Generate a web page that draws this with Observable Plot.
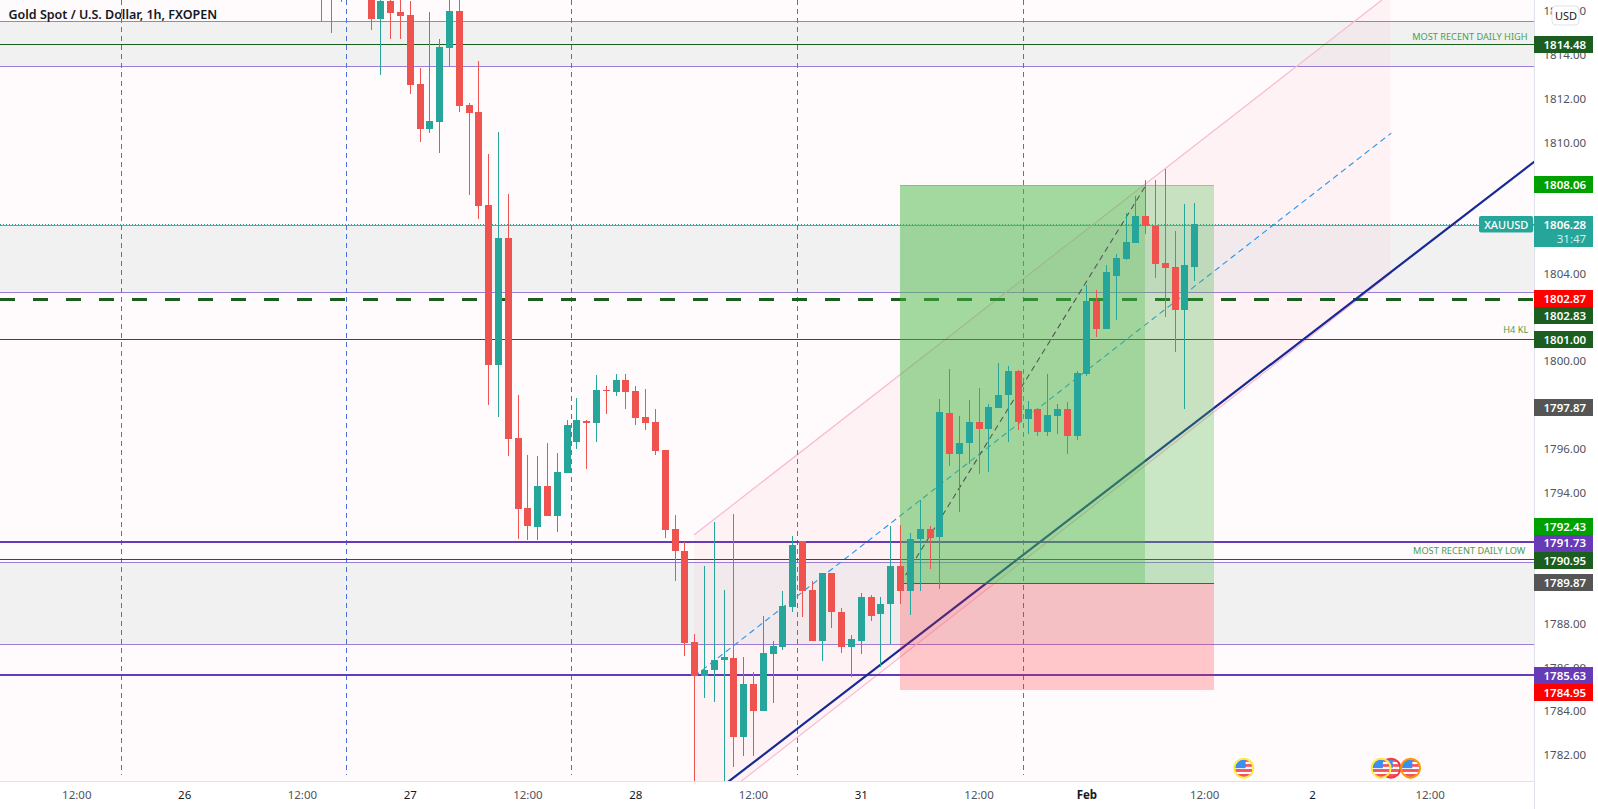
<!DOCTYPE html>
<html><head><meta charset="utf-8">
<style>html,body{margin:0;padding:0;background:#fff}svg{display:block}</style>
<script src="https://cdn.jsdelivr.net/npm/d3@7"></script>
<script src="https://cdn.jsdelivr.net/npm/@observablehq/plot@0.6"></script>
</head><body><div id="chart"></div>
<script>
const title = "Gold Spot / U.S. Dollar, 1h, FXOPEN";
// candle index runs from 0; each row is one hourly candle, oldest first
const opens = [1818.2,1818.0,1817.0,1818.2,1817.9,1817.0,1815.64,1816.46,1815.96,1815.82,1812.67,1810.61,1810.93,1814.32,1816.01,1811.71,1811.39,1807.14,1799.83,1805.63,1796.49,1793.29,1792.42,1794.29,1792.92,1794.89,1796.31,1797.27,1797.17,1798.68,1798.59,1799.14,1798.64,1797.45,1797.22,1795.94,1792.33,1791.32,1787.16,1785.61,1785.88,1786.34,1786.43,1782.82,1785.24,1784.01,1786.62,1786.93,1788.76,1791.78,1789.54,1787.21,1790.32,1788.53,1786.93,1787.21,1789.22,1788.44,1788.90,1790.64,1789.49,1791.87,1792.33,1791.96,1797.63,1795.76,1796.26,1797.22,1796.90,1797.86,1798.45,1799.55,1797.36,1797.81,1796.76,1797.49,1797.81,1796.58,1799.41,1802.75,1801.47,1803.89,1804.67,1805.40,1806.64,1806.18,1804.49,1804.30,1802.34,1804.30];
const highs = [1818.6,1818.3,1818.4,1818.9,1818.8,1817.2,1817.0,1816.6,1816.9,1816.46,1813.40,1815.96,1814.73,1817.2,1816.9,1811.80,1813.72,1809.47,1810.48,1807.64,1798.45,1795.71,1795.67,1796.26,1795.80,1797.31,1798.32,1797.31,1799.37,1798.87,1799.41,1799.41,1798.87,1798.73,1797.81,1795.94,1792.97,1791.74,1787.53,1790.64,1792.65,1789.54,1793.01,1786.48,1785.79,1788.35,1787.21,1789.49,1792.01,1791.78,1789.95,1790.32,1790.32,1788.72,1787.48,1789.40,1789.31,1789.22,1792.47,1792.51,1792.15,1793.66,1792.47,1798.27,1799.64,1797.49,1798.23,1798.77,1798.04,1799.92,1799.78,1799.60,1798.18,1797.81,1799.41,1798.04,1798.13,1799.55,1803.48,1803.25,1804.40,1804.90,1806.77,1807.55,1808.28,1808.28,1808.78,1805.96,1807.19,1807.23];
const lows = [1815.55,1815.00,1816.42,1817.0,1817.4,1815.14,1813.08,1814.73,1814.73,1812.21,1810.02,1810.43,1809.52,1813.49,1811.39,1807.60,1806.50,1798.00,1797.45,1795.67,1791.87,1791.83,1791.83,1792.92,1792.19,1794.89,1795.99,1795.07,1796.31,1797.59,1798.41,1797.81,1797.08,1796.85,1795.71,1791.92,1789.95,1786.52,1780.5,1784.60,1784.42,1780.5,1781.45,1781.95,1781.95,1784.01,1784.37,1786.80,1788.53,1788.31,1787.21,1786.30,1787.80,1786.66,1785.56,1786.62,1788.12,1786.02,1787.07,1788.90,1788.40,1789.49,1790.50,1789.59,1795.21,1793.11,1795.30,1794.84,1794.93,1797.86,1796.31,1796.85,1796.67,1796.58,1796.58,1796.67,1795.76,1796.40,1799.32,1801.11,1801.47,1801.88,1804.63,1805.40,1805.81,1803.80,1802.02,1800.42,1797.81,1803.67];
const closes = [1817.4,1817.6,1817.9,1817.4,1818.4,1815.64,1816.46,1815.92,1815.78,1812.62,1810.61,1810.98,1814.36,1816.01,1811.66,1811.34,1807.09,1799.83,1805.63,1796.44,1793.24,1792.47,1794.29,1792.92,1794.93,1797.08,1797.31,1797.17,1798.68,1798.64,1799.14,1798.59,1797.40,1797.17,1795.89,1792.28,1791.32,1787.12,1785.61,1785.88,1786.34,1786.48,1782.82,1785.24,1784.01,1786.66,1786.98,1788.81,1791.60,1789.49,1787.21,1790.32,1788.53,1786.93,1787.30,1789.22,1788.35,1788.90,1790.64,1789.49,1791.87,1792.33,1791.92,1797.68,1795.76,1796.26,1797.22,1796.90,1797.91,1798.45,1799.55,1797.22,1797.81,1796.76,1797.54,1797.81,1796.58,1799.46,1802.75,1801.47,1804.08,1804.72,1805.45,1806.64,1806.18,1804.44,1804.26,1802.34,1804.40,1806.28];

// ticks that stay readable; 1790, 1792, 1802, 1806 and 1808 sit fully behind price tags in the reference
const yTicks = [1782,1784,1786,1788,1794,1796,1798,1800,1804,1810,1812,1814,1816];
const timeTicks = [-25,-2,21,44,67,90,113];
const dayTicks = [-14,9,32,55,101];
const dayLabels = ["26","27","28","31","2"];
const monthTicks = [78];
const monthLabels = ["Feb"];
const sessionLines = [-20.45,2.5,25.44,48.5,71.5];

const zoneTops = [1815.54,1806.21,1790.81];
const zoneBottoms = [1813.48,1803.15,1787.06];
const darkLevels = [1814.48,1801.00,1790.95];
const thickPurple = [1791.73,1785.63];
const dashedLevel = [1802.87];
const lastPrice = [1806.28];

const channelIdx = [38,109];
const channelTop = [1792.10,1816.855];
const channelMid = [1785.63,1810.44];
const channelBottom = [1779.16,1804.03];
const trendIdx = [41,123.64];
const trendPrice = [1780.65,1809.15];

const entryPrice = 1789.87, targetPrice = 1808.06, stopPrice = 1784.95;
const posStart = 59, posNow = 84, posEnd = 91;
const pathIdx = [59,84];
const pathPrice = [entryPrice,1808.06];

const tagLabels = ["1814.48","1808.06","1802.87","1802.83","1801.00","1797.87","1792.43","1791.73","1790.95","1789.87","1785.63","1784.95"];
const tagCentres = [1814.48,1808.06,1802.87,1802.09,1801.00,1797.87,1792.43,1791.68,1790.89,1789.87,1785.63,1784.85];
const tagColors = ["#1b5e20","#00a000","#ff0000","#1b5e20","#1b5e20","#555555","#00a000","#673ab7","#1b5e20","#555555","#673ab7","#ff0000"];

const flagIdx = [109,94,108,111];
const flagRings = ["#f23645","#ffeb3b","#ffeb3b","#ff9800"];

const rows = opens.map((o,i)=>({i,o,h:highs[i],l:lows[i],c:closes[i]}));
const up = d => d.c >= d.o ? "#26a69a" : "#ef5350";
const xMin=-32.78, xAxis=123.64, yMax=1816.512, yMin=1780.81;
const tagL = xAxis, tagR = 129.66, tagH = .385;
const font = "'Noto Sans', sans-serif";
const crisp = {shapeRendering:"crispEdges"};
const flagSrc = "data:image/svg+xml;utf8," + encodeURIComponent('<svg xmlns="http://www.w3.org/2000/svg" viewBox="0 0 20 20"><rect width="20" height="20" fill="#fff"/><rect y="0" width="20" height="3" fill="#f7525f"/><rect y="5.5" width="20" height="3" fill="#f7525f"/><rect y="11" width="20" height="3.2" fill="#f7525f"/><rect y="16.5" width="20" height="3.5" fill="#f7525f"/><rect width="12" height="10" fill="#3d8ef0"/></svg>');

const chart = Plot.plot({
  width:1598, height:809, marginTop:0, marginRight:64, marginBottom:28, marginLeft:0,
  style:{background:"#ffffff",fontFamily:font,fontSize:"11.5px",overflow:"visible"},
  x:{type:"linear",domain:[xMin,xAxis],range:[0,1534]},
  y:{type:"linear",domain:[yMin,yMax]},
  marks:[
    Plot.frame({fill:"#fffafb",stroke:null}),
    Plot.rect(zoneTops,{x1:xMin,x2:xAxis,y1:(d,i)=>zoneTops[i],y2:(d,i)=>zoneBottoms[i],fill:"#f2f1f2",...crisp}),
    Plot.ruleY([...zoneTops,...zoneBottoms],{stroke:"#9b7fd6",strokeWidth:1,...crisp}),
    Plot.areaY(channelIdx,{x:d=>d,y1:(d,i)=>channelBottom[i],y2:(d,i)=>channelTop[i],fill:"#e91e63",fillOpacity:.035,clip:true}),
    Plot.line(channelIdx,{x:d=>d,y:(d,i)=>channelTop[i],stroke:"#f8bbd0",strokeWidth:1.2,clip:true}),
    Plot.line(channelIdx,{x:d=>d,y:(d,i)=>channelBottom[i],stroke:"#f8bbd0",strokeWidth:1.2,clip:true}),
    Plot.line(channelIdx,{x:d=>d,y:(d,i)=>channelMid[i],stroke:"#2196f3",strokeWidth:1.1,strokeDasharray:"5 5",clip:true}),
    Plot.ruleX(sessionLines,{y1:yMax,y2:1781.08,stroke:"#4a72dc",strokeWidth:1,strokeDasharray:"5 4",...crisp}),
    Plot.ruleY(thickPurple,{dy:-1,stroke:"#673ab7",strokeWidth:2,...crisp}),
    Plot.ruleY(darkLevels,{stroke:"#1b5e20",strokeWidth:1,...crisp}),
    Plot.ruleY(lastPrice,{stroke:"#26a69a",strokeWidth:1,strokeDasharray:"1 2",...crisp}),
    Plot.ruleY(dashedLevel,{dy:1,stroke:"#1b5e20",strokeWidth:3,strokeDasharray:"15 18",...crisp}),
    Plot.line(trendIdx,{x:d=>d,y:(d,i)=>trendPrice[i],stroke:"#172a94",strokeWidth:2.2,clip:true}),
    Plot.rect([0],{x1:posStart,x2:posEnd,y1:entryPrice,y2:targetPrice,fill:"#4cb84a",fillOpacity:.3,...crisp}),
    Plot.rect([0],{x1:posStart,x2:posNow,y1:entryPrice,y2:targetPrice,fill:"#4cb84a",fillOpacity:.3,...crisp}),
    Plot.rect([0],{x1:posStart,x2:posEnd,y1:stopPrice,y2:entryPrice,fill:"#ff262f",fillOpacity:.24,...crisp}),
    Plot.ruleY([entryPrice],{x1:posStart,x2:posEnd,stroke:"#555555",strokeWidth:1,...crisp}),
    Plot.ruleY([targetPrice],{x1:posStart,x2:posEnd,stroke:"#4caf50",strokeOpacity:.45,strokeWidth:1,...crisp}),
    Plot.line(pathIdx,{x:d=>d,y:(d,i)=>pathPrice[i],stroke:"#555555",strokeWidth:1.1,strokeDasharray:"5 5"}),
    Plot.ruleX(rows,{x:"i",y1:"l",y2:"h",stroke:up,strokeWidth:1,clip:true,...crisp}),
    Plot.ruleX(rows,{x:"i",y1:"o",y2:"c",stroke:up,strokeWidth:7,clip:true,...crisp}),
    Plot.text(["MOST RECENT DAILY HIGH"],{x:122.93,y:1814.83,text:d=>d,textAnchor:"end",fontSize:9.2,fill:"#4a9d4f"}),
    Plot.text(["MOST RECENT DAILY LOW"],{x:122.7,y:1791.34,text:d=>d,textAnchor:"end",fontSize:9.2,fill:"#4a9d4f"}),
    Plot.text(["H4 KL"],{x:123,y:1801.43,text:d=>d,textAnchor:"end",fontSize:9.2,fill:"#4a9d4f"}),
    Plot.text([title],{frameAnchor:"top-left",dx:8,dy:10,text:d=>d,textAnchor:"start",fontSize:12.5,fontWeight:600,fill:"#131722"}),
    Plot.ruleX([xAxis],{y1:yMax,y2:yMin-1.27,stroke:"#e0e3eb",strokeWidth:1,...crisp}),
    Plot.ruleY([yMin],{x1:xMin,x2:xAxis,stroke:"#e0e3eb",strokeWidth:1,...crisp}),
    Plot.axisY({anchor:"right",ticks:yTicks,tickSize:0,tickPadding:9,tickFormat:d=>d.toFixed(2),label:null,fill:"#50535e"}),
    Plot.axisX({ticks:timeTicks,tickSize:0,tickPadding:9,tickFormat:()=>"12:00",label:null,fill:"#50535e"}),
    Plot.axisX({ticks:dayTicks,tickSize:0,tickPadding:9,tickFormat:d=>dayLabels[dayTicks.indexOf(d)],label:null,fill:"#131722"}),
    Plot.axisX({ticks:monthTicks,tickSize:0,tickPadding:9,tickFormat:d=>monthLabels[monthTicks.indexOf(d)],label:null,fill:"#131722",fontWeight:700}),
    ...flagIdx.flatMap((x,i)=>[
      Plot.image([x],{x:d=>d,y:1781.42,src:flagSrc,r:9}),
      Plot.dot([x],{x:d=>d,y:1781.42,r:9.5,stroke:flagRings[i],strokeWidth:2,fill:"none"})
    ]),
    Plot.rect(tagLabels,{x1:tagL,x2:tagR,y1:(d,i)=>tagCentres[i]+tagH,y2:(d,i)=>tagCentres[i]-tagH,fill:(d,i)=>tagColors[i],...crisp}),
    Plot.text(tagLabels,{x:tagR-.75,y:(d,i)=>tagCentres[i],text:d=>d,textAnchor:"end",fill:"#fff",fontWeight:600}),
    Plot.rect([0],{x1:tagL,x2:tagR,y1:1806.64,y2:1805.24,fill:"#26a69a",...crisp}),
    Plot.text(["1806.28"],{x:tagR-.75,y:1806.24,text:d=>d,textAnchor:"end",fill:"#fff",fontWeight:600}),
    Plot.text(["31:47"],{x:tagR-.75,y:1805.6,text:d=>d,textAnchor:"end",fill:"#d4eeeb"}),
    Plot.rect([0],{x1:118.03,x2:123.55,y1:1806.64,y2:1805.88,fill:"#26a69a",rx:2}),
    Plot.text(["XAUUSD"],{x:120.76,y:1806.25,text:d=>d,fill:"#fff",fontWeight:500,fontSize:11}),
    Plot.rect([0],{x1:125.48,x2:128.23,y1:1816.24,y2:1815.37,fill:"#fff",stroke:"#e0e3eb",rx:4}),
    Plot.text(["USD"],{x:126.85,y:1815.8,text:d=>d,fill:"#131722",fontSize:11}),
  ]
});
document.getElementById("chart").append(chart);
</script></body></html>
